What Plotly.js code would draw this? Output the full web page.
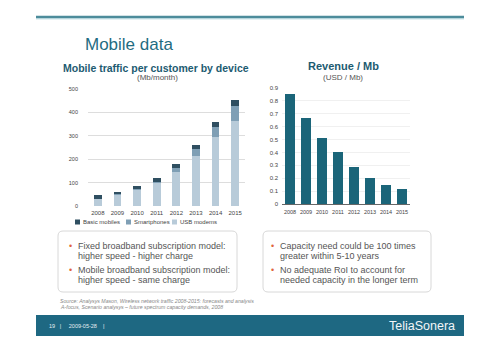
<!DOCTYPE html>
<html><head><meta charset="utf-8">
<script src="https://cdn.plot.ly/plotly-3.0.1.min.js"></script>
<style>html,body{margin:0;padding:0;background:#fff}#c{width:500px;height:352px}</style>
</head><body><div id="c"></div>
<script>
const years = ['2008','2009','2010','2011','2012','2013','2014','2015'];
const usbModems = [30, 48, 70, 100, 146, 214, 296, 364];
const smartphones = [2, 2, 3, 3, 15, 29, 40, 65];
const basicMobiles = [14, 11, 14, 16, 18, 17, 21, 24];
const revenuePerMb = [0.855, 0.666, 0.51, 0.40, 0.29, 0.205, 0.148, 0.117];
const trafficTicks = [0, 100, 200, 300, 400, 500];
const revenueTicks = [0, 0.1, 0.2, 0.3, 0.4, 0.5, 0.6, 0.7, 0.8, 0.9];

const W = 500, H = 352;
const px = x => x / W, py = y => 1 - y / H;
const F = 'Liberation Sans, Arial, sans-serif';
const cBasic = '#2f4f61', cSmart = '#7f9fb5', cUsb = '#b8cbd9', cRev = '#1b6579';

const traces = [
  {type:'bar', x: years, y: usbModems, name:'USB modems', marker:{color:cUsb}, width:0.4, xaxis:'x', yaxis:'y', hoverinfo:'y'},
  {type:'bar', x: years, y: smartphones, name:'Smartphones', marker:{color:cSmart}, width:0.4, xaxis:'x', yaxis:'y', hoverinfo:'y'},
  {type:'bar', x: years, y: basicMobiles, name:'Basic mobiles', marker:{color:cBasic}, width:0.4, xaxis:'x', yaxis:'y', hoverinfo:'y'},
  {type:'bar', x: years, y: revenuePerMb, name:'Revenue', marker:{color:cRev}, width:0.58, xaxis:'x2', yaxis:'y2', hoverinfo:'y'}
];

function ann(text, x, y, size, color, opts) {
  return Object.assign({text, x: px(x), y: py(y), xref:'paper', yref:'paper', showarrow:false,
    xanchor:'left', yanchor:'middle', font:{family:F, size, color}}, opts || {});
}

const annotations = [
  ann('Mobile data', 83, 44, 17, '#1f6c82'),
  ann('<b>Mobile traffic per customer by device</b>', 156, 68, 10.5, '#1d5b71', {xanchor:'center'}),
  ann('(Mb/month)', 157, 78, 8, '#555', {xanchor:'center'}),
  ann('<b>Revenue / Mb</b>', 343, 66, 11, '#1d5b71', {xanchor:'center'}),
  ann('(USD / Mb)', 343, 77, 8, '#555', {xanchor:'center'}),
  // legend
  ann('Basic mobiles', 81, 222, 6, '#444'),
  ann('Smartphones', 132, 222, 6, '#444'),
  ann('USB modems', 178, 222, 6, '#444'),
  // left box
  ann('•', 67, 246, 9, '#e0643c'),
  ann('Fixed broadband subscription model:', 76, 246, 9, '#555'),
  ann('higher speed - higher charge', 76, 255.5, 9, '#555'),
  ann('•', 67, 270, 9, '#e0643c'),
  ann('Mobile broadband subscription model:', 76, 270, 9, '#555'),
  ann('higher speed - same charge', 76, 279.5, 9, '#555'),
  // right box
  ann('•', 269, 246, 9, '#e0643c'),
  ann('Capacity need could be 100 times', 278, 246, 9, '#555'),
  ann('greater within 5-10 years', 278, 255.5, 9, '#555'),
  ann('•', 269, 270, 9, '#e0643c'),
  ann('No adequate RoI to account for', 278, 270, 9, '#555'),
  ann('needed capacity in the longer term', 278, 279.5, 9, '#555'),
  // source
  ann('<i>Source: Analysys Mason, Wireless network traffic 2008-2015: forecasts and analysis</i>', 58, 301, 5.2, '#888'),
  ann('<i>A-focus, Scenario analysys – future spectrum capacity demands, 2008</i>', 58, 307, 5.2, '#888'),
  // footer
  ann('19   |     2009-05-28    |', 47, 326, 5.5, '#e6eef2'),
  ann('TeliaSonera', 457, 326, 12.5, '#f2f6f8', {xanchor:'right'})
];

function roundRect(x0, y0, x1, y1, r) {
  const X0 = px(x0), X1 = px(x1), Y0 = py(y0), Y1 = py(y1), rx = r / W, ry = r / H;
  return 'M' + (X0 + rx) + ',' + Y0 + ' L' + (X1 - rx) + ',' + Y0 + ' Q' + X1 + ',' + Y0 + ' ' + X1 + ',' + (Y0 - ry) +
    ' L' + X1 + ',' + (Y1 + ry) + ' Q' + X1 + ',' + Y1 + ' ' + (X1 - rx) + ',' + Y1 +
    ' L' + (X0 + rx) + ',' + Y1 + ' Q' + X0 + ',' + Y1 + ' ' + X0 + ',' + (Y1 + ry) +
    ' L' + X0 + ',' + (Y0 - ry) + ' Q' + X0 + ',' + Y0 + ' ' + (X0 + rx) + ',' + Y0 + ' Z';
}
function swatch(x, y, c) {
  return {type:'rect', xref:'paper', yref:'paper', x0:px(x), x1:px(x + 5), y0:py(y + 2.5), y1:py(y - 2.5), line:{width:0}, fillcolor:c};
}

const shapes = [
  {type:'line', xref:'paper', yref:'paper', x0:px(36), x1:px(464), y0:py(17), y1:py(17), line:{color:'#4d8c9b', width:2.5}},
  {type:'line', xref:'paper', yref:'paper', x0:px(36), x1:px(464), y0:py(18.8), y1:py(18.8), line:{color:'#a8d0d8', width:1}},
  swatch(75, 222, cBasic), swatch(126, 222, cSmart), swatch(172, 222, cUsb),
  {type:'path', xref:'paper', yref:'paper', path: roundRect(58, 231, 237, 292, 5), line:{color:'#d8d8d8', width:1}, fillcolor:'rgba(0,0,0,0)', layer:'below'},
  {type:'path', xref:'paper', yref:'paper', path: roundRect(263, 231, 431, 292, 5), line:{color:'#d8d8d8', width:1}, fillcolor:'rgba(0,0,0,0)', layer:'below'},
  {type:'rect', xref:'paper', yref:'paper', x0:px(36), x1:px(464), y0:py(315), y1:py(336), line:{width:0}, fillcolor:'#1e6882', layer:'below'}
];

const layout = {
  width: W, height: H, margin:{l:0, r:0, t:0, b:0}, paper_bgcolor:'#fff', plot_bgcolor:'rgba(0,0,0,0)',
  showlegend:false, barmode:'stack',
  font:{family:F, color:'#444'},
  xaxis:{domain:[px(88), px(245)], anchor:'y', type:'category', showgrid:false, zeroline:false, showline:false,
    ticks:'', tickangle:0, tickfont:{size:6, color:'#444'}, ticklabelstandoff:2},
  yaxis:{domain:[py(206), py(89)], anchor:'x', range:[0, 500], tickvals:trafficTicks, showgrid:true, gridcolor:'#d4d4d4', gridwidth:0.8,
    zeroline:false, showline:false, ticks:'', tickfont:{size:5.5, color:'#444'}, ticklabelstandoff:9},
  xaxis2:{domain:[px(282), px(410)], anchor:'y2', type:'category', showgrid:false, zeroline:false, showline:true, linecolor:'#666', linewidth:1,
    ticks:'', tickangle:0, tickfont:{size:5.5, color:'#444'}, ticklabelstandoff:2},
  yaxis2:{domain:[py(204), py(88)], anchor:'x2', range:[0, 0.9], tickvals:revenueTicks, ticktext:revenueTicks.map(v => String(v)),
    showgrid:true, gridcolor:'#ececec', gridwidth:0.8, zeroline:false, showline:false, ticks:'', tickfont:{size:6, color:'#444'}, ticklabelstandoff:3},
  annotations, shapes
};

Plotly.newPlot('c', traces, layout, {displayModeBar:false, staticPlot:true});
</script></body></html>
